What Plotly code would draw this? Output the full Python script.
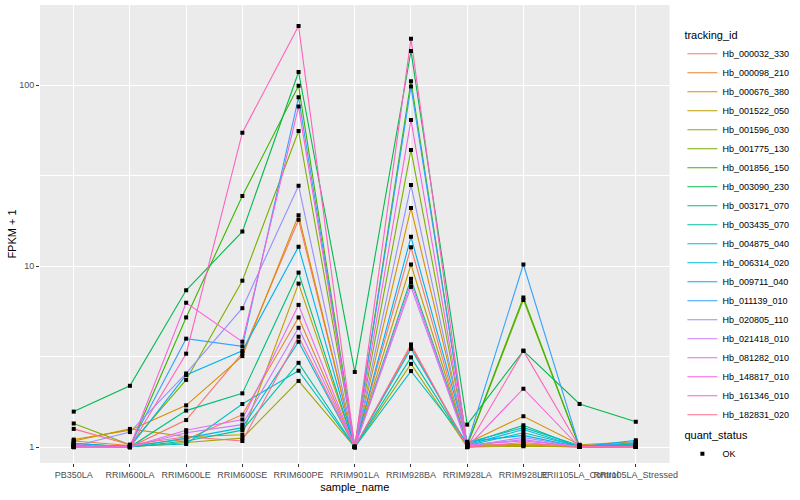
import plotly.graph_objects as go

samples = ["PB350LA", "RRIM600LA", "RRIM600LE", "RRIM600SE", "RRIM600PE", "RRIM901LA",
           "RRIM928BA", "RRIM928LA", "RRIM928LE", "RRII105LA_Control", "RRII105LA_Stressed"]

tracking_ids = ["Hb_000032_330", "Hb_000098_210", "Hb_000676_380", "Hb_001522_050",
                "Hb_001596_030", "Hb_001775_130", "Hb_001856_150", "Hb_003090_230",
                "Hb_003171_070", "Hb_003435_070", "Hb_004875_040", "Hb_006314_020",
                "Hb_009711_040", "Hb_011139_010", "Hb_020805_110", "Hb_021418_010",
                "Hb_081282_010", "Hb_148817_010", "Hb_161346_010", "Hb_182831_020"]

colors = ["#F8766D", "#EA8331", "#D89000", "#C09B00", "#A3A500", "#7CAE00", "#39B600",
          "#00BB4E", "#00BF7D", "#00C1A3", "#00BFC4", "#00BAE0", "#00B0F6", "#35A2FF",
          "#9590FF", "#C77CFF", "#E76BF3", "#FA62DB", "#FF62BC", "#FF6C90"]

# FPKM + 1 per sample (order as in samples)
Hb_000032_330 = [1.04, 1.00, 1.41, 3.30, 18.0, 1.00, 12.7, 1.02, 1.02, 1.00, 1.02]
Hb_000098_210 = [1.08, 1.02, 1.10, 1.51, 5.2, 1.00, 3.61, 1.00, 1.04, 1.02, 1.05]
Hb_000676_380 = [1.10, 1.24, 1.70, 3.18, 19.1, 1.00, 20.9, 1.05, 1.48, 1.03, 1.07]
Hb_001522_050 = [1.08, 1.26, 1.14, 1.17, 8.0, 1.00, 10.2, 1.03, 1.03, 1.00, 1.03]
Hb_001596_030 = [1.02, 1.00, 1.06, 1.12, 2.32, 1.00, 2.88, 1.00, 1.01, 1.00, 1.00]
Hb_001775_130 = [1.35, 1.03, 2.35, 8.3, 55.7, 1.00, 43.7, 1.02, 6.5, 1.00, 1.02]
Hb_001856_150 = [1.05, 1.00, 5.2, 24.4, 99.0, 1.01, 105.0, 1.03, 6.7, 1.00, 1.01]
Hb_003090_230 = [1.57, 2.18, 7.35, 15.5, 118.0, 2.6, 154.0, 1.33, 3.4, 1.73, 1.38]
Hb_003171_070 = [1.03, 1.00, 1.59, 1.98, 9.2, 1.00, 8.5, 1.04, 1.32, 1.00, 1.04]
Hb_003435_070 = [1.01, 1.00, 1.08, 1.24, 2.92, 1.00, 3.13, 1.02, 1.20, 1.01, 1.02]
Hb_004875_040 = [1.02, 1.01, 1.04, 1.73, 2.64, 1.00, 2.63, 1.06, 1.28, 1.02, 1.03]
Hb_006314_020 = [1.00, 1.00, 1.12, 1.28, 3.82, 1.00, 3.49, 1.03, 1.25, 1.00, 1.01]
Hb_009711_040 = [1.05, 1.00, 2.50, 3.40, 12.8, 1.00, 14.5, 1.07, 1.16, 1.00, 1.09]
Hb_011139_010 = [1.00, 1.02, 3.97, 3.60, 85.5, 1.00, 98.0, 1.04, 10.2, 1.00, 1.06]
Hb_020805_110 = [1.01, 1.21, 2.55, 5.85, 27.8, 1.00, 28.0, 1.01, 1.13, 1.00, 1.00]
Hb_021418_010 = [1.00, 1.00, 1.20, 1.33, 4.56, 1.00, 7.67, 1.02, 1.10, 1.00, 1.01]
Hb_081282_010 = [1.03, 1.00, 1.24, 1.42, 6.1, 1.00, 8.1, 1.03, 1.08, 1.01, 1.00]
Hb_148817_010 = [1.00, 1.00, 6.27, 3.82, 76.0, 1.00, 64.0, 1.00, 2.10, 1.00, 1.00]
Hb_161346_010 = [1.00, 1.00, 3.28, 54.5, 212.0, 1.00, 180.0, 1.00, 3.40, 1.00, 1.00]
Hb_182831_020 = [1.26, 1.03, 1.14, 1.08, 4.07, 1.00, 3.69, 1.00, 1.06, 1.00, 1.00]

series = [Hb_000032_330, Hb_000098_210, Hb_000676_380, Hb_001522_050, Hb_001596_030,
          Hb_001775_130, Hb_001856_150, Hb_003090_230, Hb_003171_070, Hb_003435_070,
          Hb_004875_040, Hb_006314_020, Hb_009711_040, Hb_011139_010, Hb_020805_110,
          Hb_021418_010, Hb_081282_010, Hb_148817_010, Hb_161346_010, Hb_182831_020]

y_ticks = [1, 10, 100]
y_minor = [10 ** 0.5, 10 ** 1.5]

fig = go.Figure()
for name, vals, col in zip(tracking_ids, series, colors):
    fig.add_trace(go.Scatter(x=samples, y=vals, mode="lines", name=name,
                             line=dict(color=col, width=1.1), legend="legend"))

all_x = [s for vals in series for s in samples]
all_y = [v for vals in series for v in vals]
fig.add_trace(go.Scatter(x=all_x, y=all_y, mode="markers", name="OK",
                         marker=dict(color="black", symbol="square", size=4),
                         legend="legend2"))

fig.update_layout(
    width=800, height=500,
    margin=dict(l=40, r=112, t=5, b=37),
    paper_bgcolor="white", plot_bgcolor="#EBEBEB",
    font=dict(family="Liberation Sans, Arial, sans-serif", color="#000000", size=11),
    xaxis=dict(categoryorder="array", categoryarray=samples, range=[-0.6, 10.6],
               showgrid=True, gridcolor="white", gridwidth=1.1, zeroline=False,
               tickangle=0, ticks="outside", ticklen=3, tickcolor="#333333",
               tickfont=dict(size=9, color="#4D4D4D"),
               title=dict(text="sample_name", font=dict(size=11), standoff=4)),
    yaxis=dict(type="log", range=[-0.088, 2.442], tickvals=y_ticks,
               ticktext=[str(t) for t in y_ticks],
               showgrid=True, gridcolor="white", gridwidth=1.1, zeroline=False,
               ticks="outside", ticklen=3, tickcolor="#333333",
               tickfont=dict(size=9, color="#4D4D4D"),
               minor=dict(tickvals=y_minor, showgrid=True, gridcolor="white",
                          gridwidth=0.5, ticks=""),
               title=dict(text="FPKM + 1", font=dict(size=11), standoff=0)),
    legend=dict(title=dict(text="tracking_id", font=dict(size=11)),
                xref="container", yref="container", x=0.853, y=0.95,
                xanchor="left", yanchor="top", font=dict(size=9),
                bgcolor="rgba(0,0,0,0)", tracegroupgap=0, itemwidth=30,
                maxheight=470),
    legend2=dict(title=dict(text="quant_status", font=dict(size=11)),
                 xref="container", yref="container", x=0.853, y=0.15,
                 xanchor="left", yanchor="top", font=dict(size=9),
                 bgcolor="rgba(0,0,0,0)", itemwidth=30),
)

fig.write_html("out.html", config={"displayModeBar": False},
               post_script="document.body.style.margin='0';")
